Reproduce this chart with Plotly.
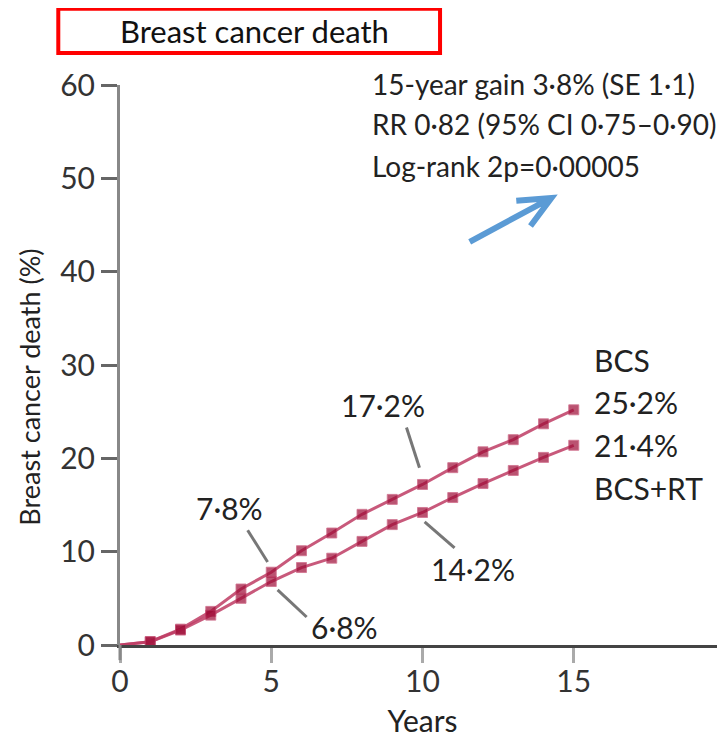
import plotly.graph_objects as go

# cumulative breast cancer death (%) by year of follow-up
years = list(range(0, 16))
bcs = [0, 0.35, 1.7, 3.6, 6.0, 7.8, 10.1, 12.0, 14.0, 15.6, 17.2, 19.0, 20.7, 22.0, 23.7, 25.2]
bcs_rt = [0, 0.35, 1.6, 3.2, 5.0, 6.8, 8.3, 9.3, 11.1, 12.9, 14.2, 15.8, 17.3, 18.7, 20.1, 21.4]

x_ticks = [0, 5, 10, 15]
y_ticks = [0, 10, 20, 30, 40, 50, 60]

stats_lines = ["15-year gain 3·8% (SE 1·1)", "RR 0·82 (95% CI 0·75–0·90)", "Log-rank 2p=0·00005"]

FONT = "Lato"
TXT = "#222"
line_col = "rgba(190,60,100,0.85)"
mark_col = "#9E0B36"
blue = "#5B9BD5"

fig = go.Figure()
for name, vals in [("BCS", bcs), ("BCS+RT", bcs_rt)]:
    fig.add_trace(go.Scatter(
        x=years, y=vals, mode="lines+markers", name=name,
        line=dict(color=line_col, width=3),
        marker=dict(symbol="square", size=[0] + [10] * 15, color=mark_col),
        showlegend=False,
    ))

annots = []
# stats block (paper coords so the top line is not dropped)
for txt, yy in zip(stats_lines, [1.0017, 0.930, 0.855]):
    annots.append(dict(x=0.413, y=yy, xref="paper", yref="paper", text=txt, showarrow=False,
                       xanchor="left", yanchor="middle", font=dict(size=28, color=TXT)))
# end labels
for txt, yy in [("BCS", 30.5), ("25·2%", 26.0), ("21·4%", 21.4), ("BCS+RT", 16.8)]:
    annots.append(dict(x=15.59, y=yy, text=txt, showarrow=False, xanchor="left",
                       yanchor="middle", font=dict(size=30, color=TXT)))
# callouts
for txt, xx, yy in [("7·8%", 3.62, 14.7), ("6·8%", 7.42, 1.9), ("17·2%", 8.70, 25.7), ("14·2%", 11.66, 8.1)]:
    annots.append(dict(x=xx, y=yy, text=txt, showarrow=False, xanchor="center",
                       yanchor="middle", font=dict(size=30, color=TXT)))
# title in red box
annots.append(dict(x=0.223, y=1.097, xref="paper", yref="paper", text="Breast cancer death",
                   xanchor="center", yanchor="middle", showarrow=False,
                   font=dict(size=31, color="#111")))
# y title
annots.append(dict(x=-0.150, y=0.46, xref="paper", yref="paper", text="Breast cancer death (%)",
                   textangle=-90, xanchor="center", yanchor="middle", showarrow=False,
                   font=dict(size=27, color=TXT)))

shapes = [
    dict(type="rect", xref="paper", yref="paper", x0=-0.102, x1=0.529, y0=1.057, y1=1.136,
         line=dict(color="#FF0000", width=4)),
    # y-axis line runs a little below zero
    dict(type="line", xref="paper", yref="paper", x0=0, x1=0, y0=-0.027, y1=0,
         line=dict(color="#888", width=3)),
    # blue arrow with open chevron head
    dict(type="path", xref="x", yref="y",
         path="M11.56,43.2 L14.2,47.8 M13.1,47.6 L14.26,47.9 L13.57,44.9",
         line=dict(color=blue, width=6)),
]
for x0, y0, x1, y1 in [(4.22, 12.3, 4.88, 8.9), (5.21, 5.9, 6.17, 3.0),
                       (9.47, 23.3, 9.9, 19.0), (10.07, 13.2, 11.06, 10.4)]:
    shapes.append(dict(type="line", xref="x", yref="y", x0=x0, y0=y0, x1=x1, y1=y1,
                       line=dict(color="#777", width=3)))

# page body adds an 8px margin, so the figure is drawn 8px smaller
fig.update_layout(
    width=717, height=730,
    margin=dict(l=112, r=0, t=77, b=93),
    plot_bgcolor="white", paper_bgcolor="white",
    font=dict(family=FONT, size=30, color="#333"),
    annotations=annots, shapes=shapes,
    xaxis=dict(range=[0, 20], tickvals=x_ticks, showgrid=False, zeroline=False,
               showline=True, linecolor="#444", linewidth=3, automargin=False,
               ticks="outside", ticklen=15, tickwidth=3, tickcolor="#aaa",
               ticklabelstandoff=-7,
               tickfont=dict(size=30, color="#333"),
               title=dict(text="Years", font=dict(size=30, color=TXT), standoff=15)),
    yaxis=dict(range=[0, 60], tickvals=y_ticks, showgrid=False, zeroline=False,
               showline=True, linecolor="#888", linewidth=3, automargin=False,
               ticks="outside", ticklen=16, tickwidth=3, tickcolor="#666",
               tickfont=dict(size=30, color="#333")),
)

fig.write_html("out.html")
